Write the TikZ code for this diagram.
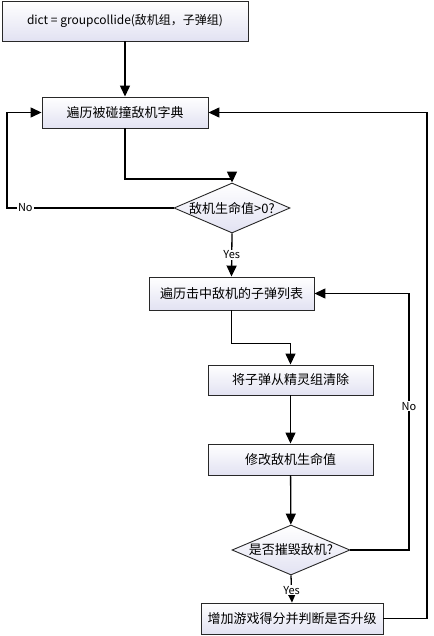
\documentclass[tikz,border=0pt]{standalone}
\usepackage{fontspec}
\setmainfont{Noto Sans CJK SC}
\usetikzlibrary{arrows.meta,shapes.geometric}
\definecolor{boxbot}{RGB}{226,226,242}
\definecolor{edge}{RGB}{40,40,40}
\tikzset{
  procbox/.style={draw=edge,line width=0.9pt,rectangle,top color=white,bottom color=boxbot,
    font=\fontsize{13}{15}\selectfont,inner sep=0pt},
  decbox/.style={draw=edge,line width=0.9pt,diamond,top color=white,bottom color=boxbot,
    inner sep=0pt,minimum width=116pt,minimum height=50pt},
  dectext/.style={font=\fontsize{13}{15}\selectfont,inner sep=0pt},
  arr/.style={draw=black,line width=1.3pt,-{Triangle[length=11pt,width=10pt]}},
  lbl/.style={fill=white,font=\fontsize{11}{13}\selectfont,inner sep=1pt}
}
\begin{document}
\begin{tikzpicture}[x=1pt,y=-1pt]
\useasboundingbox (0,0) rectangle (433,636);
\node[procbox,font=\fontsize{12}{14}\selectfont,minimum width=246pt,minimum height=40pt] (b1) at (125,21) {dict = groupcollide(敌机组，子弹组)};
\node[procbox,minimum width=166pt,minimum height=31pt] (b2) at (125,112.5) {遍历被碰撞敌机字典};
\node[decbox] (d1) at (232,208) {};
\node[dectext] (t1) at (232,208) {敌机生命值>0?};
\node[procbox,minimum width=165pt,minimum height=33pt] (b3) at (231.5,293.5) {遍历击中敌机的子弹列表};
\node[procbox,minimum width=165pt,minimum height=30pt] (b4) at (290.5,380) {将子弹从精灵组清除};
\node[procbox,minimum width=165pt,minimum height=31pt] (b5) at (290.5,459.5) {修改敌机生命值};
\node[decbox,minimum width=118pt] (d2) at (291,550) {};
\node[dectext] (t2) at (291,550) {是否摧毁敌机?};
\node[procbox,minimum width=182pt,minimum height=31pt] (b6) at (292,618.5) {增加游戏得分并判断是否升级};
\coordinate (cl) at (7,208);
\coordinate (cr) at (409,550);
\coordinate (cf) at (427,618.5);
\draw[arr] (b1) -- (b2);
\draw[arr] (b2.south) -- ++(0,50.5) -| (d1.north);
\draw[arr] (d1.west) -- node[lbl,pos=0.89]{No} (cl) |- (b2.west);
\draw[arr] (d1.south) -- node[lbl,pos=0.5]{Yes} (b3.north);
\draw[arr] (b3.south) -- ++(0,33) -| (b4.north);
\draw[arr] (b4) -- (b5);
\draw[arr] (b5) -- (d2);
\draw[arr] (d2.east) -- (cr) |- node[lbl,pos=0.28]{No} (b3.east);
\draw[arr] (d2.south) -- node[lbl,pos=0.55]{Yes} (b6.north);
\draw[arr] (b6.east) -- (cf) |- (b2.east);
\end{tikzpicture}
\end{document}
